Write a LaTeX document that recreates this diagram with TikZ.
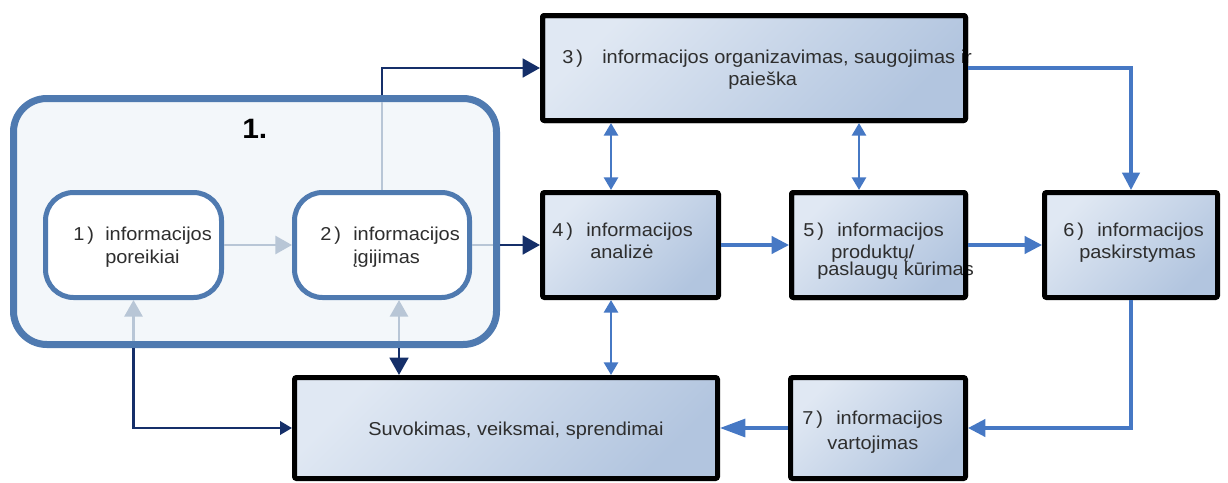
\documentclass[tikz,border=0pt]{standalone}
\usepackage{fontspec}
\setmainfont{Liberation Sans}[FakeStretch=1.07]
\usetikzlibrary{arrows.meta,calc}

\definecolor{frameblue}{HTML}{4F7AB0}
\definecolor{framefill}{HTML}{F3F7FA}
\definecolor{flowblue}{HTML}{4678C4}
\definecolor{navy}{HTML}{152F69}
\definecolor{paleline}{HTML}{B8C6D6}
\definecolor{boxlight}{HTML}{E0E8F3}
\definecolor{boxdark}{HTML}{B2C5DF}
\definecolor{ink}{HTML}{2E2E2E}

\begin{document}
\begin{tikzpicture}[x=0.75pt,y=-0.75pt,
  procbox/.style={draw=black, line width=3.75pt, left color=boxlight, right color=boxdark,
    shading angle=45, inner sep=0, rounded corners=1.5pt},
  softbox/.style={draw=frameblue, line width=3.75pt, fill=white, rounded corners=21pt, inner sep=0},
  groupbox/.style={draw=frameblue, line width=5.25pt, fill=framefill, rounded corners=25pt, inner sep=0},
  lbl/.style={anchor=base west, inner sep=0, text=ink, font=\fontsize{14}{17}\selectfont},
  flow/.style={draw=flowblue, line width=2.3pt, -{Triangle[length=13pt,width=13pt]}},
  longflow/.style={draw=flowblue, line width=2.3pt, -{Triangle[length=19pt,width=13.5pt]}},
  dblflow/.style={draw=flowblue, line width=2.1pt,
    {Triangle[length=9.5pt,width=10.5pt]}-{Triangle[length=9.5pt,width=10.5pt]}},
  navyflow/.style={draw=navy, line width=2.1pt, -{Triangle[length=13pt,width=14pt]}},
  navysmall/.style={draw=navy, line width=2.1pt, -{Triangle[length=9pt,width=10pt]}},
  paleflow/.style={draw=paleline, line width=2.1pt, -{Triangle[length=12.5pt,width=13.5pt]}},
  paleplain/.style={draw=paleline, line width=2.1pt},
]
\useasboundingbox (0,0) rectangle (1228,482);

% group 1 with its two rounded steps
\node[groupbox, minimum width=362.25pt, minimum height=184.5pt] (grp) at (255,221.5) {};
\node[softbox, minimum width=132pt, minimum height=78.75pt] (n1) at (133.5,245) {};
\node[softbox, minimum width=131.25pt, minimum height=78.75pt] (n2) at (382,245) {};

% process boxes
\node[procbox, minimum width=317.25pt, minimum height=78.75pt] (n3) at (754,68) {};
\node[procbox, minimum width=132pt, minimum height=78.75pt] (n4) at (630.5,245) {};
\node[procbox, minimum width=130.5pt, minimum height=78.75pt] (n5) at (878.5,245) {};
\node[procbox, minimum width=129.75pt, minimum height=78.75pt] (n6) at (1131,245) {};
\node[procbox, minimum width=317.25pt, minimum height=75.75pt] (act) at (506,428) {};
\node[procbox, minimum width=131.25pt, minimum height=75.75pt] (n7) at (878,428) {};

% texts
\node[lbl, font=\bfseries\fontsize{21}{24}\selectfont, text=black] (title) at (242,138) {1.};

\node[lbl] (t1a) at (73,240) {1\,)};
\node[lbl] (t1b) at (105,240) {informacijos};
\node[lbl] (t1c) at (105,263) {poreikiai};

\node[lbl] (t2a) at (320,240) {2\,)};
\node[lbl] (t2b) at (353,240) {informacijos};
\node[lbl] (t2c) at (353,263) {įgijimas};

\node[lbl] (t3a) at (562,63) {3\,)};
\node[lbl] (t3b) at (602,63) {informacijos organizavimas, saugojimas ir};
\node[lbl] (t3c) at (728,85) {paieška};

\node[lbl] (t4a) at (552,236) {4\,)};
\node[lbl] (t4b) at (586,236) {informacijos};
\node[lbl] (t4c) at (590,258) {analizė};

\node[lbl] (t5a) at (803,236) {5\,)};
\node[lbl] (t5b) at (837,236) {informacijos};
\node[lbl] (t5c) at (831,258) {produktų/};
\node[lbl] (t5d) at (817,275) {paslaugų kūrimas};

\node[lbl] (t6a) at (1063,236) {6\,)};
\node[lbl] (t6b) at (1097,236) {informacijos};
\node[lbl] (t6c) at (1079,258) {paskirstymas};

\node[lbl] (t7a) at (802,424) {7\,)};
\node[lbl] (t7b) at (836,424) {informacijos};
\node[lbl] (t7c) at (827,449) {vartojimas};

\node[lbl] (tact) at (368,435) {Suvokimas, veiksmai, sprendimai};

% borders over the overflowing lines
\draw[line width=3.75pt, rounded corners=1.5pt] ($(n3.north west)+(2.5,2.5)$) rectangle ($(n3.south east)+(-2.5,-2.5)$);
\draw[line width=3.75pt, rounded corners=1.5pt] ($(n5.north west)+(2.5,2.5)$) rectangle ($(n5.south east)+(-2.5,-2.5)$);

% connectors inside group 1 (pale) and leaving it (navy)
\draw[paleflow] (n1.east) -- (n2.west);

\coordinate (gtop) at (n2.north |- grp.north);
\draw[paleplain] (n2.north) -- ($(gtop)+(0,7)$);
\draw[navyflow] (gtop) |- (n3.west);

\coordinate (gright) at (grp.east |- n2.east);
\draw[paleplain] (n2.east) -- ($(gright)+(-7,0)$);
\draw[navyflow] (gright) -- (n4.west);

\coordinate (gbl) at (n1.south |- grp.south);
\draw[paleflow] ($(gbl)+(0,-7)$) -- (n1.south);
\draw[navysmall] (gbl) |- (act.west);

\coordinate (gbr) at ($(n2.south |- grp.south)+(17,0)$);
\draw[paleflow] ($(gbr)+(0,-7)$) -- (gbr |- n2.south);
\draw[navyflow] (gbr) -- (gbr |- act.north);

% flow between the process boxes
\coordinate (c4) at ($(n4.north)+(-19.5,0)$);
\coordinate (c5) at ($(n5.north)+(-19.5,0)$);
\coordinate (c4b) at ($(n4.south)+(-19.5,0)$);
\draw[dblflow] (c4 |- n3.south) -- (c4);
\draw[dblflow] (c5 |- n3.south) -- (c5);
\draw[dblflow] (c4b) -- (c4b |- act.north);

\draw[flow] (n3.east) -| (n6.north);
\draw[flow] (n4.east) -- (n5.west);
\draw[flow] (n5.east) -- (n6.west);
\draw[flow] (n6.south) |- (n7.east);
\draw[longflow] (n7.west) -- (act.east);
\end{tikzpicture}
\end{document}
